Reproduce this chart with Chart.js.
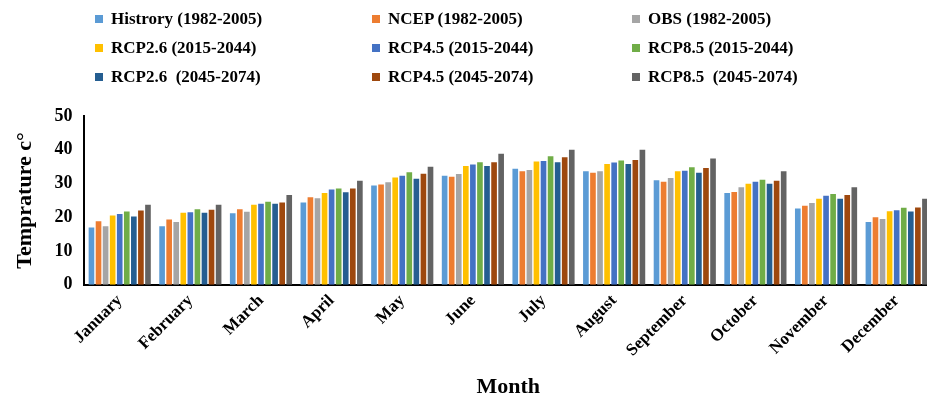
<!DOCTYPE html>
<html><head><meta charset="utf-8">
<script src="https://cdn.jsdelivr.net/npm/chart.js@4"></script>
<style>
body{margin:0;background:#fff;font-family:"Liberation Serif",serif}
#wrap{position:relative;width:927px;height:403px;overflow:hidden}
#legend{position:absolute;left:0;top:0;width:927px;height:100px}
.li{position:absolute;font-weight:bold;font-size:17px;white-space:pre;line-height:18px}
.li span{display:inline-block;width:8px;height:8px;margin-right:8px;vertical-align:1px}
</style></head><body>
<div id="wrap"><div id="legend"></div><canvas id="c" width="932" height="403"></canvas></div>
<script>
const months = ['January','February','March','April','May','June','July','August','September','October','November','December'];
const seriesNames = ['Histrory (1982-2005)','NCEP (1982-2005)','OBS (1982-2005)','RCP2.6 (2015-2044)','RCP4.5 (2015-2044)','RCP8.5 (2015-2044)','RCP2.6  (2045-2074)','RCP4.5 (2045-2074)','RCP8.5  (2045-2074)'];
const colors = ['#5b9bd5','#ed7d31','#a5a5a5','#ffc000','#4472c4','#70ad47','#255e91','#9e480e','#636363'];
const history = [17,17.3,21.2,24.4,29.4,32.3,34.4,33.6,31,27.2,22.6,18.6];
const ncep = [18.8,19.3,22.4,25.9,29.7,32,33.6,33.2,30.5,27.5,23.4,20];
const obs = [17.3,18.6,21.6,25.6,30.4,32.8,34,33.6,31.6,28.9,24.2,19.5];
const rcp26a = [20.5,21.3,23.7,27.2,31.8,35.2,36.5,35.8,33.6,29.9,25.5,21.8];
const rcp45a = [21,21.5,24,28.2,32.3,35.6,36.7,36.2,33.8,30.5,26.4,22.1];
const rcp85a = [21.7,22.4,24.6,28.5,33.3,36.3,38.1,36.8,34.8,31.1,26.9,22.8];
const rcp26b = [20.2,21.3,24,27.4,31.4,35.2,36.3,35.8,33.2,29.9,25.5,21.7];
const rcp45b = [22,22.2,24.4,28.5,32.9,36.3,37.8,37,34.6,30.8,26.6,22.9];
const rcp85b = [23.7,23.7,26.6,30.8,35,38.8,40,40,37.4,33.6,28.9,25.5];
const values = [history,ncep,obs,rcp26a,rcp45a,rcp85a,rcp26b,rcp45b,rcp85b];
const yTicks = [0,10,20,30,40,50];

const lx = [95,372,632], ly = [10,39,68];
const leg = document.getElementById('legend');
seriesNames.forEach((n,i)=>{
  const d = document.createElement('div');
  d.className='li';
  d.style.left = lx[i%3]+'px'; d.style.top = ly[Math.floor(i/3)]+'px';
  d.innerHTML = '<span style="background:'+colors[i]+'"></span>'+n;
  leg.appendChild(d);
});

const font = {family:'"Liberation Serif", serif', weight:'bold', size:17};
new Chart(document.getElementById('c'), {
  type:'bar',
  data:{labels:months, datasets:values.map((v,i)=>({label:seriesNames[i],data:v,backgroundColor:colors[i],borderWidth:0,categoryPercentage:0.9,barPercentage:0.8}))},
  options:{
    responsive:false,animation:false,
    layout:{padding:{top:116,right:0,left:8,bottom:2}},
    plugins:{legend:{display:false},tooltip:{enabled:false}},
    scales:{
      x:{grid:{display:false,drawTicks:false},border:{color:'#000',width:2},
        ticks:{color:'#000',font:font,maxRotation:45,minRotation:45,padding:6},
        title:{display:true,text:'Month',color:'#000',font:{family:'"Liberation Serif", serif',weight:'bold',size:22},padding:{top:8,bottom:0}}},
      y:{min:0,max:50,grid:{display:false,drawTicks:false},border:{color:'#000',width:2},
        afterBuildTicks:a=>{a.ticks=yTicks.map(v=>({value:v}));},
        ticks:{color:'#000',font:{family:'"Liberation Serif", serif',weight:'bold',size:18},padding:12},
        title:{display:true,text:'Temprature c°',color:'#000',font:{family:'"Liberation Serif", serif',weight:'bold',size:22},padding:{bottom:4}}}
    }
  }
});
</script></body></html>
